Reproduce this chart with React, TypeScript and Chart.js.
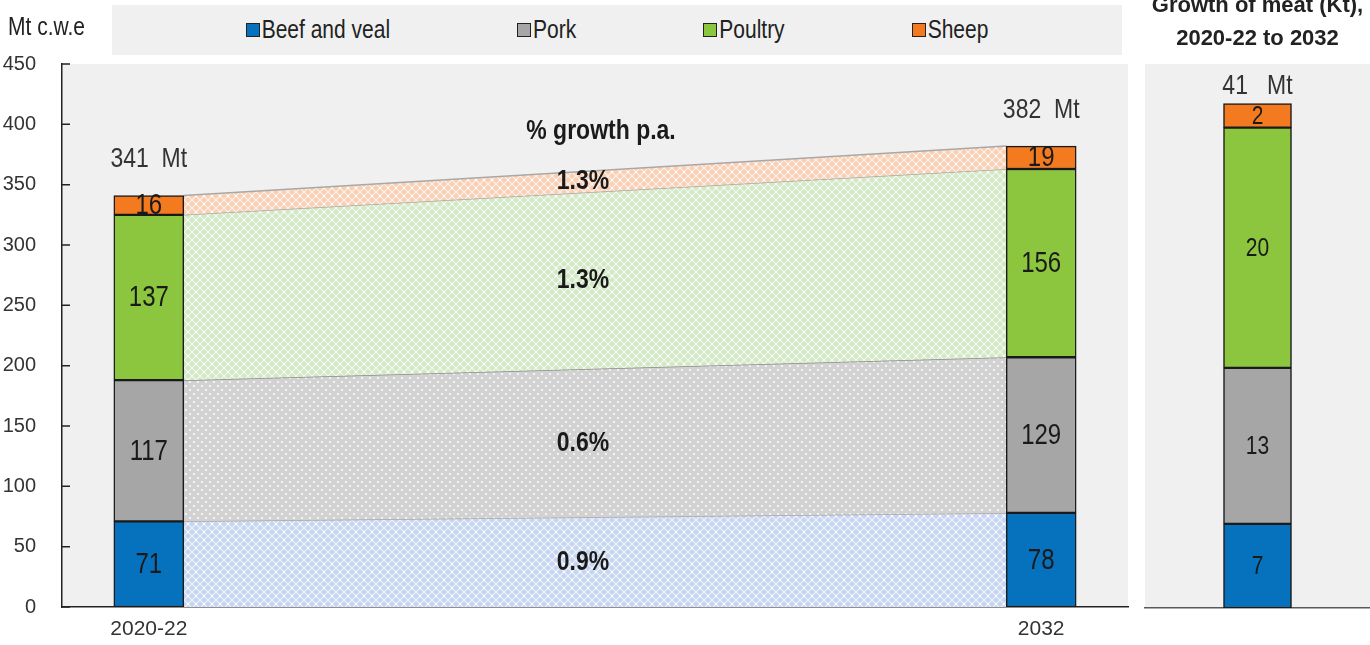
import { useEffect, useRef } from 'react'
import { Chart, registerables, type Plugin } from 'chart.js'

Chart.register(...registerables)

const FONT = '"Liberation Sans", Arial, sans-serif'
const STRETCH = 1.2 // the source picture is a bit taller than wide

// series
const CATEGORIES = ['Beef and veal', 'Pork', 'Poultry', 'Sheep']
const COLORS = ['#0672bd', '#a6a6a6', '#8cc63f', '#f47a20']
const BAND_COLORS = ['#c6d6f0', '#d2d2d2', '#d3e9c5', '#f9d0b5']

const PERIODS = [2021, 2032]
const PERIOD_LABELS = ['2020-22', '2032']
const BEEF = [71, 78]
const PORK = [117, 129]
const POULTRY = [137, 156]
const SHEEP = [16, 19]
const TOTALS = [341, 382]
const GROWTH_PA = ['0.9%', '0.6%', '1.3%', '1.3%']

// right panel: growth 2020-22 to 2032
const GROWTH_KT = [7, 13, 20, 2]
const GROWTH_TOTAL = 41

const SERIES = [BEEF, PORK, POULTRY, SHEEP]

function makePattern(base: string, dots: boolean): CanvasPattern | string {
  const c = document.createElement('canvas')
  c.width = 8
  c.height = 8
  const g = c.getContext('2d')
  if (!g) return base
  g.fillStyle = base
  g.fillRect(0, 0, 8, 8)
  g.fillStyle = 'rgba(255,255,255,0.75)'
  if (dots) {
    g.fillRect(1, 1, 2, 2)
    g.fillRect(5, 5, 2, 2)
  } else {
    g.strokeStyle = 'rgba(255,255,255,0.7)'
    g.lineWidth = 1.2
    g.beginPath()
    g.moveTo(0, 0); g.lineTo(8, 8)
    g.moveTo(8, 0); g.lineTo(0, 8)
    g.stroke()
    g.fillRect(3, 3, 2, 2)
  }
  return g.createPattern(c, 'repeat') ?? base
}

function tallText(ctx: CanvasRenderingContext2D, text: string, x: number, y: number) {
  ctx.save()
  ctx.translate(x, y)
  ctx.scale(1, STRETCH)
  ctx.fillText(text, 0, 0)
  ctx.restore()
}

const areaBg: Plugin = {
  id: 'areaBg',
  beforeDraw(chart) {
    const { ctx, chartArea: a } = chart
    ctx.save()
    ctx.fillStyle = '#f0f0f0'
    ctx.fillRect(a.left, a.top, a.right - a.left, a.bottom - a.top)
    ctx.restore()
  },
}

const innerTicks: Plugin = {
  id: 'innerTicks',
  afterDraw(chart) {
    const y = chart.scales.y
    const { ctx, chartArea: a } = chart
    ctx.save()
    ctx.strokeStyle = '#222'
    ctx.lineWidth = 1.5
    ctx.beginPath()
    y.ticks.forEach(t => {
      const py = y.getPixelForValue(t.value)
      ctx.moveTo(a.left, py)
      ctx.lineTo(a.left + 8, py)
    })
    ctx.stroke()
    ctx.restore()
  },
}

const bands: Plugin = {
  id: 'bands',
  beforeDatasetsDraw(chart) {
    const { ctx } = chart
    const patterns = BAND_COLORS.map((c, i) => makePattern(c, i === 1))
    let mid = 0
    ctx.save()
    SERIES.forEach((_, k) => {
      const els = chart.getDatasetMeta(k).data as any[]
      const a = els[0], b = els[1]
      const x0 = a.x + a.width / 2
      const x1 = b.x - b.width / 2
      mid = (x0 + x1) / 2
      ctx.beginPath()
      ctx.moveTo(x0, a.y)
      ctx.lineTo(x1, b.y)
      ctx.lineTo(x1, b.base)
      ctx.lineTo(x0, a.base)
      ctx.closePath()
      ctx.fillStyle = patterns[k]
      ctx.fill()
      ctx.beginPath()
      ctx.moveTo(x0, a.y)
      ctx.lineTo(x1, b.y)
      ctx.strokeStyle = k === 1 ? '#8a8a8a' : '#a8a8a8'
      ctx.lineWidth = 1.5
      ctx.stroke()
    })
    ctx.fillStyle = '#1a1a1a'
    ctx.font = `bold 23px ${FONT}`
    ctx.textAlign = 'center'
    ctx.textBaseline = 'middle'
    SERIES.forEach((_, k) => {
      const els = chart.getDatasetMeta(k).data as any[]
      const a = els[0], b = els[1]
      const cy = (a.y + a.base + b.y + b.base) / 4
      tallText(ctx, GROWTH_PA[k], mid - 12, cy)
    })
    tallText(ctx, '% growth p.a.', mid + 6, chart.scales.y.getPixelForValue(394))
    ctx.restore()
  },
}

function valueLabels(values: number[][], totals: string[], size: number, gap: number): Plugin {
  return {
    id: 'valueLabels',
    afterDatasetsDraw(chart) {
      const { ctx } = chart
      ctx.save()
      ctx.textAlign = 'center'
      ctx.textBaseline = 'middle'
      ctx.fillStyle = '#1a1a1a'
      ctx.font = `${size}px ${FONT}`
      values.forEach((vals, k) => {
        const els = chart.getDatasetMeta(k).data as any[]
        els.forEach((el, i) => {
          tallText(ctx, String(vals[i]), el.x, (el.y + el.base) / 2 + 1)
        })
      })
      const top = chart.getDatasetMeta(values.length - 1).data as any[]
      ctx.fillStyle = '#333'
      ctx.font = `23px ${FONT}`
      top.forEach((el, i) => {
        tallText(ctx, totals[i], el.x, el.y - gap)
      })
      ctx.restore()
    },
  }
}

function MainChart() {
  const ref = useRef<HTMLCanvasElement>(null)
  useEffect(() => {
    if (!ref.current) return
    const chart = new Chart(ref.current, {
      type: 'bar',
      data: {
        datasets: SERIES.map((d, i) => ({
          label: CATEGORIES[i],
          data: d.map((v, j) => ({ x: PERIODS[j], y: v })),
          backgroundColor: COLORS[i],
          borderColor: '#1a1a1a',
          borderWidth: 1.5,
          borderSkipped: false,
          barThickness: 70,
        })),
      },
      options: {
        animation: false,
        responsive: false,
        layout: { padding: { top: 64, right: 7, left: 0, bottom: 0 } },
        plugins: { legend: { display: false }, tooltip: { enabled: false } },
        scales: {
          x: {
            type: 'linear',
            stacked: true,
            offset: false,
            min: 2019.93,
            max: 2033.07,
            grid: { display: false, drawTicks: false, offset: false },
            border: { color: '#222', width: 1.5 },
            ticks: {
              color: '#333',
              font: { family: FONT, size: 21 },
              padding: 10,
              autoSkip: false,
              maxRotation: 0,
              callback: (v) => PERIOD_LABELS[PERIODS.indexOf(Number(v))] ?? '',
            },
            afterBuildTicks: (s) => { s.ticks = PERIODS.map(value => ({ value })) },
            afterFit: (s) => { s.height = 37 },
          },
          y: {
            stacked: true,
            min: 0,
            max: 450,
            grid: { display: false, drawTicks: false },
            border: { color: '#222', width: 1.5 },
            ticks: { stepSize: 50, color: '#333', font: { family: FONT, size: 20 }, padding: 26 },
            afterFit: (s) => { s.width = 62 },
          },
        },
      },
      plugins: [areaBg, bands, innerTicks, valueLabels(SERIES, TOTALS.map(t => `${t}  Mt`), 24, 36)],
    })
    return () => chart.destroy()
  }, [])
  return <canvas ref={ref} width={1135} height={645} style={{ position: 'absolute', left: 0, top: 0 }} />
}

function GrowthChart() {
  const ref = useRef<HTMLCanvasElement>(null)
  useEffect(() => {
    if (!ref.current) return
    const chart = new Chart(ref.current, {
      type: 'bar',
      data: {
        labels: [''],
        datasets: GROWTH_KT.map((v, i) => ({
          label: CATEGORIES[i],
          data: [v],
          backgroundColor: COLORS[i],
          borderColor: '#1a1a1a',
          borderWidth: 1.5,
          borderSkipped: false,
          barThickness: 68,
        })),
      },
      options: {
        animation: false,
        responsive: false,
        layout: { padding: { top: 64, right: 0, left: 10, bottom: 0 } },
        plugins: { legend: { display: false }, tooltip: { enabled: false } },
        scales: {
          x: {
            stacked: true,
            grid: { display: false, drawTicks: false },
            border: { color: '#5a5a5a', width: 1.5 },
            ticks: { display: false },
            afterFit: (s) => { s.height = 37 },
          },
          y: { stacked: true, display: false, min: 0, max: 45.3 },
        },
      },
      plugins: [areaBg, valueLabels(GROWTH_KT.map(v => [v]), [`${GROWTH_TOTAL}   Mt`], 21, 17)],
    })
    return () => chart.destroy()
  }, [])
  return <canvas ref={ref} width={235} height={645} style={{ position: 'absolute', left: 1135, top: 0 }} />
}

const tall = { display: 'inline-block', transform: `scaleY(${STRETCH})` }

export default function App() {
  return (
    <div style={{ position: 'absolute', left: 0, top: 0, width: 1370, height: 645, background: '#fff', overflow: 'hidden' }}>
      <MainChart />
      <GrowthChart />
      <div style={{
        position: 'absolute', left: 112, top: 5, width: 1010, height: 50, background: '#f0f0f0',
        display: 'flex', alignItems: 'center', justifyContent: 'center', gap: 127,
        fontFamily: FONT, fontSize: 21, color: '#222',
      }}>
        {CATEGORIES.map((c, i) => (
          <span key={c} style={{ display: 'flex', alignItems: 'center', gap: 2 }}>
            <span style={{ width: 12, height: 12, background: COLORS[i], border: '1.5px solid #222', display: 'inline-block' }} />
            <span style={tall}>{c}</span>
          </span>
        ))}
      </div>
      <div style={{ position: 'absolute', left: 8, top: 15, fontFamily: FONT, fontSize: 21, color: '#222' }}>
        <span style={tall}>Mt c.w.e</span>
      </div>
      <div style={{
        position: 'absolute', left: 1145, top: -12, width: 225, textAlign: 'center',
        fontFamily: FONT, fontWeight: 'bold', fontSize: 22, lineHeight: '33px', color: '#222',
      }}>
        Growth of meat (Kt),<br />2020-22 to 2032
      </div>
    </div>
  )
}
